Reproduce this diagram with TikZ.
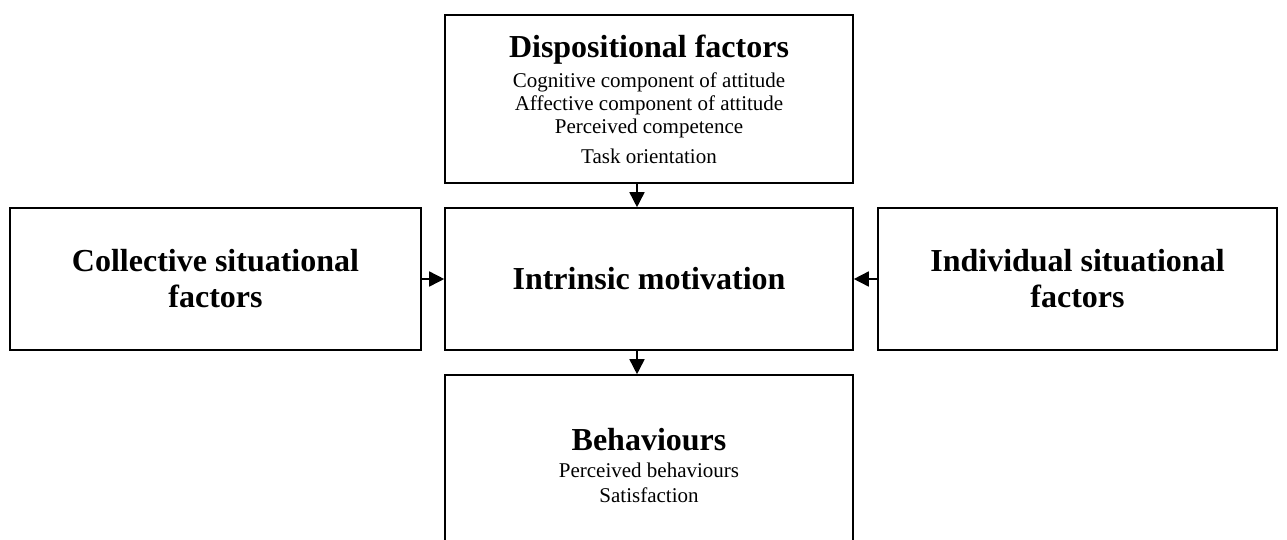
\documentclass[tikz,border=0pt]{standalone}
\usepackage{fontspec}
\setmainfont{Liberation Serif}
\usetikzlibrary{arrows.meta, positioning, calc}

\begin{document}
\begin{tikzpicture}[
    x=1pt, y=-1pt,
    >={Triangle[length=15pt, width=15pt]}, % 实心三角箭头
    box/.style={draw=black, line width=1.6pt, align=center, inner sep=0pt}, % 方框样式
    head/.style={font=\fontsize{32}{36}\selectfont\bfseries}, % 标题文字
    sub/.style={font=\fontsize{21}{23}\selectfont},           % 小号文字
    link/.style={->, line width=1.6pt, black}                 % 连线样式
]
    % 0. 画布范围
    \clip (0,0) rectangle (1287,539);

    % 1. 五个方框
    \node[box, sub, minimum width=408pt, minimum height=168pt] (disp) at (649,99)
        {{\fontsize{32}{36}\selectfont\bfseries Dispositional factors}\\[7pt]
         Cognitive component of attitude\\
         Affective component of attitude\\
         Perceived competence\\[7pt]
         Task orientation};
    \node[box, head, minimum width=408pt, minimum height=142pt] (intr) at (649,279)
        {Intrinsic motivation};
    \node[box, head, minimum width=411pt, minimum height=142pt] (coll) at (215.5,279)
        {Collective situational\\factors};
    \node[box, head, minimum width=399pt, minimum height=142pt] (indi) at (1077.5,279)
        {Individual situational\\factors};
    \node[box, font=\fontsize{21}{25}\selectfont, minimum width=408pt, minimum height=180pt] (beh) at (649,465)
        {{\fontsize{32}{36}\selectfont\bfseries Behaviours}\\[2pt]
         Perceived behaviours\\
         Satisfaction};

    % 2. 竖向箭头(略偏左)
    \coordinate (ax) at (637,0);
    \draw[link] (disp.south -| ax) -- (intr.north -| ax);
    \draw[link] (intr.south -| ax) -- (beh.north -| ax);

    % 3. 横向箭头
    \draw[link] (coll.east) -- (intr.west);
    \draw[link] (indi.west) -- (intr.east);
\end{tikzpicture}
\end{document}
